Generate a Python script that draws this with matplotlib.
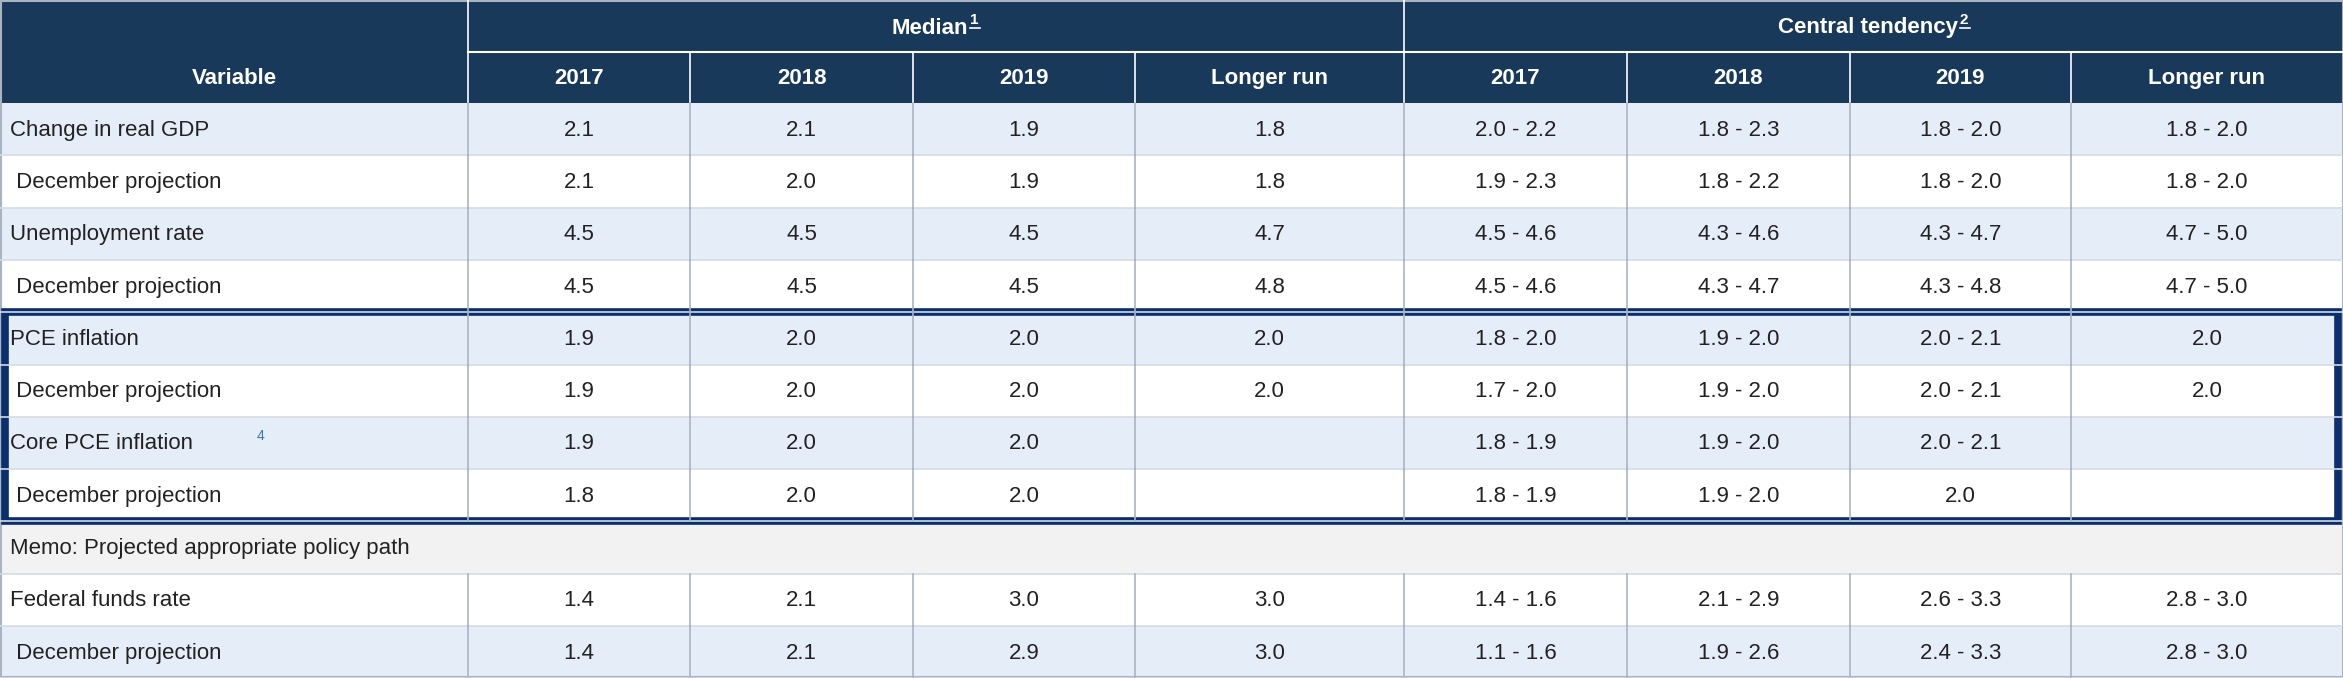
import matplotlib.pyplot as plt
from matplotlib.patches import Rectangle

plt.rcParams['font.family'] = ['Liberation Sans', 'DejaVu Sans']

variables = ["Change in real GDP", " December projection", "Unemployment rate", " December projection",
             "PCE inflation", " December projection", "Core PCE inflation", " December projection",
             "Memo: Projected appropriate policy path", "Federal funds rate", " December projection"]
median = [["2.1", "2.1", "1.9", "1.8"], ["2.1", "2.0", "1.9", "1.8"],
          ["4.5", "4.5", "4.5", "4.7"], ["4.5", "4.5", "4.5", "4.8"],
          ["1.9", "2.0", "2.0", "2.0"], ["1.9", "2.0", "2.0", "2.0"],
          ["1.9", "2.0", "2.0", ""], ["1.8", "2.0", "2.0", ""],
          None,
          ["1.4", "2.1", "3.0", "3.0"], ["1.4", "2.1", "2.9", "3.0"]]
central = [["2.0 - 2.2", "1.8 - 2.3", "1.8 - 2.0", "1.8 - 2.0"], ["1.9 - 2.3", "1.8 - 2.2", "1.8 - 2.0", "1.8 - 2.0"],
           ["4.5 - 4.6", "4.3 - 4.6", "4.3 - 4.7", "4.7 - 5.0"], ["4.5 - 4.6", "4.3 - 4.7", "4.3 - 4.8", "4.7 - 5.0"],
           ["1.8 - 2.0", "1.9 - 2.0", "2.0 - 2.1", "2.0"], ["1.7 - 2.0", "1.9 - 2.0", "2.0 - 2.1", "2.0"],
           ["1.8 - 1.9", "1.9 - 2.0", "2.0 - 2.1", ""], ["1.8 - 1.9", "1.9 - 2.0", "2.0", ""],
           None,
           ["1.4 - 1.6", "2.1 - 2.9", "2.6 - 3.3", "2.8 - 3.0"], ["1.1 - 1.6", "1.9 - 2.6", "2.4 - 3.3", "2.8 - 3.0"]]
col_heads = ["2017", "2018", "2019", "Longer run"]
row_fill = ["#e5eef8", "white", "#e5eef8", "white", "#e5eef8", "white", "#e5eef8", "white",
            "#f2f2f2", "white", "#e5eef8"]

W, H = 2343, 678
edges = [0, 468, 690, 913, 1135, 1404, 1627, 1850, 2071, 2343]
h1, h2, rh = 52, 103, 52.3
navy = "#19395a"
grid = "#a9b4c2"

fig = plt.figure(figsize=(W / 100, H / 100), dpi=100)
ax = fig.add_axes([0, 0, 1, 1])
ax.set_xlim(0, W)
ax.set_ylim(H, 0)
ax.axis('off')
fs = 16

# header
ax.add_patch(Rectangle((0, 0), W, h2, color=navy, lw=0))
ax.plot([edges[1], W], [h1, h1], color="white", lw=1.5)
for x in edges[1:-1]:
    y0 = 0 if x in (edges[1], edges[5]) else h1
    ax.plot([x, x], [y0, h2], color="white", lw=1.2)
ax.text(edges[1] / 2, (h1 + h2) / 2 + 1, "Variable", color="white", fontsize=fs, fontweight='bold', ha='center', va='center')
for i in range(8):
    ax.text((edges[i + 1] + edges[i + 2]) / 2, (h1 + h2) / 2 + 1, col_heads[i % 4], color="white",
            fontsize=fs, fontweight='bold', ha='center', va='center')
for lab, sup, x0, x1 in [("Median", "1", edges[1], edges[5]), ("Central tendency", "2", edges[5], W)]:
    t = ax.text((x0 + x1) / 2 - 6, h1 / 2 + 2, lab, color="white", fontsize=fs, fontweight='bold', ha='center', va='center')
    fig.canvas.draw()
    bb = t.get_window_extent()
    xs = bb.x1 + 2
    ax.text(xs, h1 / 2 - 6, sup, color="white", fontsize=11, fontweight='bold', ha='left', va='center')
    ax.plot([xs, xs + 10], [h1 / 2 + 2, h1 / 2 + 2], color="white", lw=1.2)

# body
for r, name in enumerate(variables):
    y0 = h2 + r * rh
    ax.add_patch(Rectangle((0, y0), W, rh, color=row_fill[r], lw=0))
    ax.plot([0, W], [y0 + rh, y0 + rh], color="#d4dbe3", lw=1.2)
    yc = y0 + rh / 2 + 1
    ax.text(10, yc, name, fontsize=fs, color="#222222", ha='left', va='center')
    if r == 6:
        ax.text(257, yc - 8, "4", fontsize=10, color="#3a74a8", ha='left', va='center')
    if median[r] is None:
        continue
    for x in edges[1:-1]:
        ax.plot([x, x], [y0, y0 + rh], color=grid, lw=1.2)
    vals = median[r] + central[r]
    for i, v in enumerate(vals):
        ax.text((edges[i + 1] + edges[i + 2]) / 2, yc, v, fontsize=fs, color="#222222", ha='center', va='center')

# outer frame and highlight box
ax.add_patch(Rectangle((0.5, 0.5), W - 1, H - 1.5, fill=False, ec=grid, lw=1.5))
ax.add_patch(Rectangle((5, h2 + 4 * rh), W - 10, 4 * rh, fill=False, ec="#0a2e6e", lw=5.5))

plt.savefig("out.png", dpi=100)
